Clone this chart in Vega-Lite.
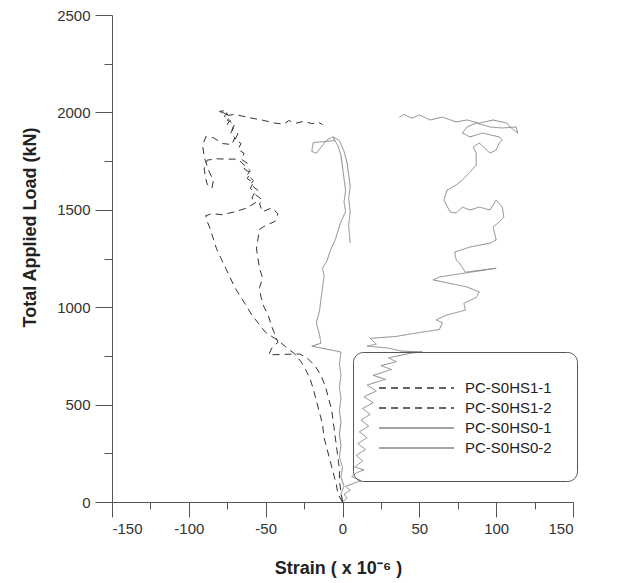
{
"$schema":"https://vega.github.io/schema/vega-lite/v6.json",
"width":461,"height":487,
"autosize":"none",
"padding":{"left":112,"top":15,"right":58,"bottom":81},
"background":"white",
"config":{"view":{"stroke":null},"font":"Liberation Sans"},
"data":{"values":[
{"s":"PC-S0HS0-1","i":1,"x":0,"y":0},{"s":"PC-S0HS0-1","i":2,"x":3,"y":20},{"s":"PC-S0HS0-1","i":3,"x":1,"y":40},{"s":"PC-S0HS0-1","i":4,"x":5,"y":60},{"s":"PC-S0HS0-1","i":5,"x":2,"y":80},{"s":"PC-S0HS0-1","i":6,"x":12,"y":110},{"s":"PC-S0HS0-1","i":7,"x":6,"y":130},{"s":"PC-S0HS0-1","i":8,"x":9,"y":150},{"s":"PC-S0HS0-1","i":9,"x":14,"y":165},{"s":"PC-S0HS0-1","i":10,"x":8,"y":180},
{"s":"PC-S0HS0-1","i":11,"x":13,"y":210},{"s":"PC-S0HS0-1","i":12,"x":9,"y":240},{"s":"PC-S0HS0-1","i":13,"x":15,"y":270},{"s":"PC-S0HS0-1","i":14,"x":10,"y":300},{"s":"PC-S0HS0-1","i":15,"x":16,"y":330},{"s":"PC-S0HS0-1","i":16,"x":11,"y":360},{"s":"PC-S0HS0-1","i":17,"x":17,"y":390},{"s":"PC-S0HS0-1","i":18,"x":12,"y":420},{"s":"PC-S0HS0-1","i":19,"x":18,"y":450},{"s":"PC-S0HS0-1","i":20,"x":13,"y":480},
{"s":"PC-S0HS0-1","i":21,"x":20,"y":510},{"s":"PC-S0HS0-1","i":22,"x":14,"y":540},{"s":"PC-S0HS0-1","i":23,"x":22,"y":570},{"s":"PC-S0HS0-1","i":24,"x":16,"y":600},{"s":"PC-S0HS0-1","i":25,"x":28,"y":630},{"s":"PC-S0HS0-1","i":26,"x":20,"y":650},{"s":"PC-S0HS0-1","i":27,"x":32,"y":680},{"s":"PC-S0HS0-1","i":28,"x":25,"y":700},{"s":"PC-S0HS0-1","i":29,"x":35,"y":720},{"s":"PC-S0HS0-1","i":30,"x":30,"y":740},
{"s":"PC-S0HS0-1","i":31,"x":45,"y":765},{"s":"PC-S0HS0-1","i":32,"x":52,"y":770},{"s":"PC-S0HS0-1","i":33,"x":38,"y":775},{"s":"PC-S0HS0-1","i":34,"x":30,"y":790},{"s":"PC-S0HS0-1","i":35,"x":16,"y":800},{"s":"PC-S0HS0-1","i":36,"x":22,"y":810},{"s":"PC-S0HS0-1","i":37,"x":18,"y":840},{"s":"PC-S0HS0-1","i":38,"x":35,"y":850},{"s":"PC-S0HS0-1","i":39,"x":50,"y":870},{"s":"PC-S0HS0-1","i":40,"x":63,"y":885},
{"s":"PC-S0HS0-1","i":41,"x":65,"y":920},{"s":"PC-S0HS0-1","i":42,"x":61,"y":935},{"s":"PC-S0HS0-1","i":43,"x":68,"y":960},{"s":"PC-S0HS0-1","i":44,"x":80,"y":985},{"s":"PC-S0HS0-1","i":45,"x":79,"y":1020},{"s":"PC-S0HS0-1","i":46,"x":87,"y":1050},{"s":"PC-S0HS0-1","i":47,"x":89,"y":1078},{"s":"PC-S0HS0-1","i":48,"x":81,"y":1104},{"s":"PC-S0HS0-1","i":49,"x":59,"y":1140},{"s":"PC-S0HS0-1","i":50,"x":63,"y":1155},
{"s":"PC-S0HS0-1","i":51,"x":100,"y":1200},{"s":"PC-S0HS0-1","i":52,"x":80,"y":1180},{"s":"PC-S0HS0-1","i":53,"x":76,"y":1227},{"s":"PC-S0HS0-1","i":54,"x":74,"y":1242},{"s":"PC-S0HS0-1","i":55,"x":73,"y":1283},{"s":"PC-S0HS0-1","i":56,"x":83,"y":1309},{"s":"PC-S0HS0-1","i":57,"x":96,"y":1329},{"s":"PC-S0HS0-1","i":58,"x":100,"y":1345},{"s":"PC-S0HS0-1","i":59,"x":98,"y":1412},{"s":"PC-S0HS0-1","i":60,"x":102,"y":1437},
{"s":"PC-S0HS0-1","i":61,"x":105,"y":1463},{"s":"PC-S0HS0-1","i":62,"x":104,"y":1514},{"s":"PC-S0HS0-1","i":63,"x":100,"y":1550},{"s":"PC-S0HS0-1","i":64,"x":96,"y":1499},{"s":"PC-S0HS0-1","i":65,"x":89,"y":1514},{"s":"PC-S0HS0-1","i":66,"x":83,"y":1499},{"s":"PC-S0HS0-1","i":67,"x":78,"y":1514},{"s":"PC-S0HS0-1","i":68,"x":74,"y":1483},{"s":"PC-S0HS0-1","i":69,"x":70,"y":1489},{"s":"PC-S0HS0-1","i":70,"x":66,"y":1550},
{"s":"PC-S0HS0-1","i":71,"x":68,"y":1601},{"s":"PC-S0HS0-1","i":72,"x":74,"y":1627},{"s":"PC-S0HS0-1","i":73,"x":78,"y":1653},{"s":"PC-S0HS0-1","i":74,"x":83,"y":1694},{"s":"PC-S0HS0-1","i":75,"x":87,"y":1730},{"s":"PC-S0HS0-1","i":76,"x":87,"y":1791},{"s":"PC-S0HS0-1","i":77,"x":85,"y":1822},{"s":"PC-S0HS0-1","i":78,"x":89,"y":1843},{"s":"PC-S0HS0-1","i":79,"x":96,"y":1791},{"s":"PC-S0HS0-1","i":80,"x":100,"y":1807},
{"s":"PC-S0HS0-1","i":81,"x":102,"y":1843},{"s":"PC-S0HS0-1","i":82,"x":104,"y":1858},{"s":"PC-S0HS0-1","i":83,"x":102,"y":1874},{"s":"PC-S0HS0-1","i":84,"x":91,"y":1894},{"s":"PC-S0HS0-1","i":85,"x":83,"y":1874},{"s":"PC-S0HS0-1","i":86,"x":78,"y":1894},{"s":"PC-S0HS0-1","i":87,"x":81,"y":1925},{"s":"PC-S0HS0-1","i":88,"x":87,"y":1945},{"s":"PC-S0HS0-1","i":89,"x":96,"y":1925},{"s":"PC-S0HS0-1","i":90,"x":104,"y":1920},
{"s":"PC-S0HS0-1","i":91,"x":113,"y":1925},{"s":"PC-S0HS0-1","i":92,"x":114,"y":1894},{"s":"PC-S0HS0-1","i":93,"x":109,"y":1925},{"s":"PC-S0HS0-1","i":94,"x":107,"y":1945},{"s":"PC-S0HS0-1","i":95,"x":98,"y":1961},{"s":"PC-S0HS0-1","i":96,"x":89,"y":1945},{"s":"PC-S0HS0-1","i":97,"x":81,"y":1961},{"s":"PC-S0HS0-1","i":98,"x":74,"y":1951},{"s":"PC-S0HS0-1","i":99,"x":65,"y":1976},{"s":"PC-S0HS0-1","i":100,"x":57,"y":1961},
{"s":"PC-S0HS0-1","i":101,"x":50,"y":1987},{"s":"PC-S0HS0-1","i":102,"x":45,"y":1970},{"s":"PC-S0HS0-1","i":103,"x":40,"y":1990},{"s":"PC-S0HS0-1","i":104,"x":37,"y":1975},

{"s":"PC-S0HS0-2","i":1,"x":0,"y":0},{"s":"PC-S0HS0-2","i":2,"x":-1,"y":40},{"s":"PC-S0HS0-2","i":3,"x":1,"y":80},{"s":"PC-S0HS0-2","i":4,"x":-1,"y":130},{"s":"PC-S0HS0-2","i":5,"x":0,"y":180},{"s":"PC-S0HS0-2","i":6,"x":-2,"y":230},{"s":"PC-S0HS0-2","i":7,"x":-1,"y":290},{"s":"PC-S0HS0-2","i":8,"x":-2,"y":350},{"s":"PC-S0HS0-2","i":9,"x":-1,"y":410},{"s":"PC-S0HS0-2","i":10,"x":-2,"y":470},
{"s":"PC-S0HS0-2","i":11,"x":-1,"y":530},{"s":"PC-S0HS0-2","i":12,"x":-2,"y":590},{"s":"PC-S0HS0-2","i":13,"x":-1,"y":650},{"s":"PC-S0HS0-2","i":14,"x":-2,"y":710},{"s":"PC-S0HS0-2","i":15,"x":-1,"y":770},{"s":"PC-S0HS0-2","i":16,"x":-20,"y":800},{"s":"PC-S0HS0-2","i":17,"x":-14,"y":815},{"s":"PC-S0HS0-2","i":18,"x":-15,"y":860},{"s":"PC-S0HS0-2","i":19,"x":-17,"y":920},{"s":"PC-S0HS0-2","i":20,"x":-15,"y":980},
{"s":"PC-S0HS0-2","i":21,"x":-14,"y":1040},{"s":"PC-S0HS0-2","i":22,"x":-13,"y":1100},{"s":"PC-S0HS0-2","i":23,"x":-12,"y":1160},{"s":"PC-S0HS0-2","i":24,"x":-13,"y":1200},{"s":"PC-S0HS0-2","i":25,"x":-10,"y":1240},{"s":"PC-S0HS0-2","i":26,"x":-8,"y":1290},{"s":"PC-S0HS0-2","i":27,"x":-5,"y":1340},{"s":"PC-S0HS0-2","i":28,"x":-3,"y":1390},{"s":"PC-S0HS0-2","i":29,"x":-1,"y":1440},{"s":"PC-S0HS0-2","i":30,"x":2,"y":1490},
{"s":"PC-S0HS0-2","i":31,"x":1,"y":1540},{"s":"PC-S0HS0-2","i":32,"x":2,"y":1600},{"s":"PC-S0HS0-2","i":33,"x":1,"y":1660},{"s":"PC-S0HS0-2","i":34,"x":0,"y":1720},{"s":"PC-S0HS0-2","i":35,"x":-1,"y":1780},{"s":"PC-S0HS0-2","i":36,"x":-3,"y":1830},{"s":"PC-S0HS0-2","i":37,"x":-6,"y":1870},{"s":"PC-S0HS0-2","i":38,"x":-5,"y":1855},{"s":"PC-S0HS0-2","i":39,"x":-12,"y":1850},{"s":"PC-S0HS0-2","i":40,"x":-19,"y":1845},
{"s":"PC-S0HS0-2","i":41,"x":-20,"y":1800},{"s":"PC-S0HS0-2","i":42,"x":-17,"y":1790},{"s":"PC-S0HS0-2","i":43,"x":-14,"y":1820},{"s":"PC-S0HS0-2","i":44,"x":-10,"y":1860},{"s":"PC-S0HS0-2","i":45,"x":-6,"y":1875},{"s":"PC-S0HS0-2","i":46,"x":-2,"y":1855},{"s":"PC-S0HS0-2","i":47,"x":1,"y":1800},{"s":"PC-S0HS0-2","i":48,"x":3,"y":1740},{"s":"PC-S0HS0-2","i":49,"x":4,"y":1680},{"s":"PC-S0HS0-2","i":50,"x":5,"y":1620},
{"s":"PC-S0HS0-2","i":51,"x":4,"y":1560},{"s":"PC-S0HS0-2","i":52,"x":5,"y":1490},{"s":"PC-S0HS0-2","i":53,"x":4,"y":1420},{"s":"PC-S0HS0-2","i":54,"x":5,"y":1330},

{"s":"PC-S0HS1-1","i":1,"x":0,"y":0},{"s":"PC-S0HS1-1","i":2,"x":-3,"y":40},{"s":"PC-S0HS1-1","i":3,"x":-4,"y":90},{"s":"PC-S0HS1-1","i":4,"x":-6,"y":150},{"s":"PC-S0HS1-1","i":5,"x":-8,"y":210},{"s":"PC-S0HS1-1","i":6,"x":-10,"y":270},{"s":"PC-S0HS1-1","i":7,"x":-12,"y":330},{"s":"PC-S0HS1-1","i":8,"x":-13,"y":400},{"s":"PC-S0HS1-1","i":9,"x":-15,"y":460},{"s":"PC-S0HS1-1","i":10,"x":-17,"y":520},
{"s":"PC-S0HS1-1","i":11,"x":-19,"y":580},{"s":"PC-S0HS1-1","i":12,"x":-21,"y":630},{"s":"PC-S0HS1-1","i":13,"x":-24,"y":680},{"s":"PC-S0HS1-1","i":14,"x":-27,"y":720},{"s":"PC-S0HS1-1","i":15,"x":-31,"y":760},{"s":"PC-S0HS1-1","i":16,"x":-36,"y":790},{"s":"PC-S0HS1-1","i":17,"x":-42,"y":830},{"s":"PC-S0HS1-1","i":18,"x":-50,"y":870},{"s":"PC-S0HS1-1","i":19,"x":-55,"y":920},{"s":"PC-S0HS1-1","i":20,"x":-59,"y":960},
{"s":"PC-S0HS1-1","i":21,"x":-62,"y":1000},{"s":"PC-S0HS1-1","i":22,"x":-66,"y":1050},{"s":"PC-S0HS1-1","i":23,"x":-70,"y":1100},{"s":"PC-S0HS1-1","i":24,"x":-73,"y":1150},{"s":"PC-S0HS1-1","i":25,"x":-76,"y":1200},{"s":"PC-S0HS1-1","i":26,"x":-79,"y":1250},{"s":"PC-S0HS1-1","i":27,"x":-82,"y":1300},{"s":"PC-S0HS1-1","i":28,"x":-84,"y":1350},{"s":"PC-S0HS1-1","i":29,"x":-86,"y":1400},{"s":"PC-S0HS1-1","i":30,"x":-88,"y":1440},
{"s":"PC-S0HS1-1","i":31,"x":-89,"y":1470},{"s":"PC-S0HS1-1","i":32,"x":-85,"y":1480},{"s":"PC-S0HS1-1","i":33,"x":-78,"y":1475},{"s":"PC-S0HS1-1","i":34,"x":-70,"y":1490},{"s":"PC-S0HS1-1","i":35,"x":-62,"y":1510},{"s":"PC-S0HS1-1","i":36,"x":-56,"y":1540},{"s":"PC-S0HS1-1","i":37,"x":-59,"y":1560},{"s":"PC-S0HS1-1","i":38,"x":-57,"y":1590},{"s":"PC-S0HS1-1","i":39,"x":-60,"y":1610},{"s":"PC-S0HS1-1","i":40,"x":-58,"y":1640},
{"s":"PC-S0HS1-1","i":41,"x":-62,"y":1660},{"s":"PC-S0HS1-1","i":42,"x":-60,"y":1690},{"s":"PC-S0HS1-1","i":43,"x":-64,"y":1710},{"s":"PC-S0HS1-1","i":44,"x":-62,"y":1740},{"s":"PC-S0HS1-1","i":45,"x":-66,"y":1760},{"s":"PC-S0HS1-1","i":46,"x":-64,"y":1790},{"s":"PC-S0HS1-1","i":47,"x":-68,"y":1810},{"s":"PC-S0HS1-1","i":48,"x":-66,"y":1840},{"s":"PC-S0HS1-1","i":49,"x":-70,"y":1860},{"s":"PC-S0HS1-1","i":50,"x":-68,"y":1890},
{"s":"PC-S0HS1-1","i":51,"x":-72,"y":1910},{"s":"PC-S0HS1-1","i":52,"x":-70,"y":1940},{"s":"PC-S0HS1-1","i":53,"x":-75,"y":1960},{"s":"PC-S0HS1-1","i":54,"x":-73,"y":1980},{"s":"PC-S0HS1-1","i":55,"x":-78,"y":2000},{"s":"PC-S0HS1-1","i":56,"x":-76,"y":2010},{"s":"PC-S0HS1-1","i":57,"x":-80,"y":2005},{"s":"PC-S0HS1-1","i":58,"x":-74,"y":1985},{"s":"PC-S0HS1-1","i":59,"x":-70,"y":1990},{"s":"PC-S0HS1-1","i":60,"x":-62,"y":1975},
{"s":"PC-S0HS1-1","i":61,"x":-52,"y":1960},{"s":"PC-S0HS1-1","i":62,"x":-44,"y":1945},{"s":"PC-S0HS1-1","i":63,"x":-38,"y":1940},{"s":"PC-S0HS1-1","i":64,"x":-35,"y":1958},{"s":"PC-S0HS1-1","i":65,"x":-30,"y":1945},{"s":"PC-S0HS1-1","i":66,"x":-25,"y":1955},{"s":"PC-S0HS1-1","i":67,"x":-20,"y":1942},{"s":"PC-S0HS1-1","i":68,"x":-16,"y":1950},{"s":"PC-S0HS1-1","i":69,"x":-13,"y":1938},

{"s":"PC-S0HS1-2","i":1,"x":0,"y":0},{"s":"PC-S0HS1-2","i":2,"x":-1,"y":50},{"s":"PC-S0HS1-2","i":3,"x":-2,"y":110},{"s":"PC-S0HS1-2","i":4,"x":-2,"y":170},{"s":"PC-S0HS1-2","i":5,"x":-3,"y":230},{"s":"PC-S0HS1-2","i":6,"x":-4,"y":290},{"s":"PC-S0HS1-2","i":7,"x":-5,"y":350},{"s":"PC-S0HS1-2","i":8,"x":-6,"y":410},{"s":"PC-S0HS1-2","i":9,"x":-7,"y":470},{"s":"PC-S0HS1-2","i":10,"x":-9,"y":530},
{"s":"PC-S0HS1-2","i":11,"x":-11,"y":590},{"s":"PC-S0HS1-2","i":12,"x":-14,"y":650},{"s":"PC-S0HS1-2","i":13,"x":-18,"y":700},{"s":"PC-S0HS1-2","i":14,"x":-23,"y":740},{"s":"PC-S0HS1-2","i":15,"x":-28,"y":760},{"s":"PC-S0HS1-2","i":16,"x":-38,"y":758},{"s":"PC-S0HS1-2","i":17,"x":-48,"y":755},{"s":"PC-S0HS1-2","i":18,"x":-46,"y":790},{"s":"PC-S0HS1-2","i":19,"x":-42,"y":820},{"s":"PC-S0HS1-2","i":20,"x":-44,"y":860},
{"s":"PC-S0HS1-2","i":21,"x":-46,"y":900},{"s":"PC-S0HS1-2","i":22,"x":-48,"y":950},{"s":"PC-S0HS1-2","i":23,"x":-51,"y":1000},{"s":"PC-S0HS1-2","i":24,"x":-53,"y":1050},{"s":"PC-S0HS1-2","i":25,"x":-54,"y":1100},{"s":"PC-S0HS1-2","i":26,"x":-52,"y":1150},{"s":"PC-S0HS1-2","i":27,"x":-54,"y":1200},{"s":"PC-S0HS1-2","i":28,"x":-55,"y":1250},{"s":"PC-S0HS1-2","i":29,"x":-56,"y":1300},{"s":"PC-S0HS1-2","i":30,"x":-55,"y":1350},
{"s":"PC-S0HS1-2","i":31,"x":-54,"y":1400},{"s":"PC-S0HS1-2","i":32,"x":-50,"y":1420},{"s":"PC-S0HS1-2","i":33,"x":-44,"y":1440},{"s":"PC-S0HS1-2","i":34,"x":-42,"y":1480},{"s":"PC-S0HS1-2","i":35,"x":-46,"y":1510},{"s":"PC-S0HS1-2","i":36,"x":-52,"y":1490},{"s":"PC-S0HS1-2","i":37,"x":-54,"y":1530},{"s":"PC-S0HS1-2","i":38,"x":-52,"y":1550},{"s":"PC-S0HS1-2","i":39,"x":-57,"y":1580},{"s":"PC-S0HS1-2","i":40,"x":-55,"y":1600},
{"s":"PC-S0HS1-2","i":41,"x":-60,"y":1630},{"s":"PC-S0HS1-2","i":42,"x":-58,"y":1650},{"s":"PC-S0HS1-2","i":43,"x":-62,"y":1680},{"s":"PC-S0HS1-2","i":44,"x":-60,"y":1700},{"s":"PC-S0HS1-2","i":45,"x":-64,"y":1730},{"s":"PC-S0HS1-2","i":46,"x":-68,"y":1760},{"s":"PC-S0HS1-2","i":47,"x":-75,"y":1760},{"s":"PC-S0HS1-2","i":48,"x":-82,"y":1762},{"s":"PC-S0HS1-2","i":49,"x":-88,"y":1755},{"s":"PC-S0HS1-2","i":50,"x":-90,"y":1710},
{"s":"PC-S0HS1-2","i":51,"x":-89,"y":1660},{"s":"PC-S0HS1-2","i":52,"x":-88,"y":1630},{"s":"PC-S0HS1-2","i":53,"x":-85,"y":1610},{"s":"PC-S0HS1-2","i":54,"x":-84,"y":1650},{"s":"PC-S0HS1-2","i":55,"x":-87,"y":1700},{"s":"PC-S0HS1-2","i":56,"x":-90,"y":1770},{"s":"PC-S0HS1-2","i":57,"x":-91,"y":1830},{"s":"PC-S0HS1-2","i":58,"x":-89,"y":1875},{"s":"PC-S0HS1-2","i":59,"x":-84,"y":1870},{"s":"PC-S0HS1-2","i":60,"x":-78,"y":1840},
{"s":"PC-S0HS1-2","i":61,"x":-72,"y":1835},{"s":"PC-S0HS1-2","i":62,"x":-70,"y":1870},{"s":"PC-S0HS1-2","i":63,"x":-73,"y":1890},{"s":"PC-S0HS1-2","i":64,"x":-71,"y":1920},{"s":"PC-S0HS1-2","i":65,"x":-75,"y":1940},{"s":"PC-S0HS1-2","i":66,"x":-73,"y":1960},{"s":"PC-S0HS1-2","i":67,"x":-77,"y":1980},{"s":"PC-S0HS1-2","i":68,"x":-75,"y":1995},{"s":"PC-S0HS1-2","i":69,"x":-79,"y":2005}
]},
"layer":[
{"mark":{"type":"line","strokeWidth":1,"clip":true},
"encoding":{
"x":{"field":"x","type":"quantitative","scale":{"domain":[-150,150],"nice":false,"zero":false},
"axis":{"orient":"bottom","title":"Strain ( x 10⁻⁶ )","values":[-150,-100,-50,0,50,100,150],
"labelExpr":"toString(datum.value)","tickSize":15,
"grid":false,"domainColor":"#555","tickColor":"#555","labelColor":"#333","labelFontSize":15,"labelPadding":4,
"titleFontSize":18,"titleFontWeight":"bold","titleColor":"#222","titleX":226,"titleY":71,"titleBaseline":"alphabetic"}},
"y":{"field":"y","type":"quantitative","scale":{"domain":[0,2500],"nice":false},
"axis":{"orient":"left","title":"Total Applied Load (kN)","values":[0,500,1000,1500,2000,2500],
"labelExpr":"toString(datum.value)","tickSize":17,
"grid":false,"domainColor":"#555","tickColor":"#555","labelColor":"#333","labelFontSize":15,"labelPadding":5,
"titleFontSize":18,"titleFontWeight":"bold","titleColor":"#222","titleX":-77,"titleY":212,"titleBaseline":"alphabetic"}},
"color":{"field":"s","type":"nominal","scale":{"domain":["PC-S0HS1-1","PC-S0HS1-2","PC-S0HS0-1","PC-S0HS0-2"],"range":["#333","#333","#888","#888"]},
"legend":{"title":null,"orient":"none","legendX":241,"legendY":337,"symbolType":"M-1,0H6.5","symbolSize":400,"symbolStrokeWidth":1.5,"labelFontSize":15,"labelColor":"#222","strokeColor":"#555","cornerRadius":10,"padding":25,"rowPadding":1,"labelOffset":65}},
"strokeDash":{"field":"s","type":"nominal","scale":{"domain":["PC-S0HS1-1","PC-S0HS1-2","PC-S0HS0-1","PC-S0HS0-2"],"range":[[7,5],[7,5],[1,0],[1,0]]}},
"order":{"field":"i","type":"quantitative"}
}},
{"mark":{"type":"point","opacity":0},
"encoding":{
"x":{"field":"x","type":"quantitative","axis":{"orient":"bottom","title":null,"values":[-125,-75,-25,25,75,125],"labels":false,"domain":false,"grid":false,"tickSize":7,"tickColor":"#555"}},
"y":{"field":"y","type":"quantitative","axis":{"orient":"left","title":null,"values":[250,750,1250,1750,2250],"labels":false,"domain":false,"grid":false,"tickSize":8,"tickColor":"#555"}}
}}
],
"resolve":{"axis":{"x":"independent","y":"independent"}}
}
